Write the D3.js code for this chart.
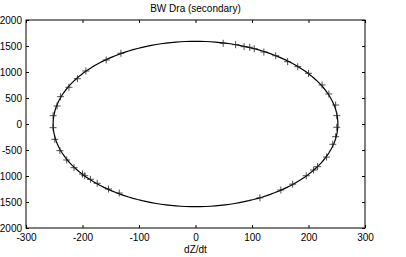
<!DOCTYPE html>
<html>
<head>
<meta charset="utf-8">
<script src="https://cdn.jsdelivr.net/npm/d3@7"></script>
<style>
body { margin: 0; background: #fff; }
text { font-family: "Liberation Sans", Arial, sans-serif; fill: #000; }
</style>
</head>
<body>
<svg id="board" width="406" height="257"></svg>
<script>
// observed velocity points (dZ/dt, value)
dzdt = [-252, -252, -245, -239, -224, -209, -194, -158, -132,
        -249, -240, -228, -215, -200, -196, -186, -174, -154, -135,
        49, 71, 86, 96, 104, 121, 142, 163, 181, 200, 224, 236, 248, 250, 250,
        248, 243, 232, 216, 209, 196, 172, 151, 114];
vel = [-71, 160, 346, 525, 706, 871, 1019, 1231, 1360,
       -295, -513, -692, -840, -962, -994, -1064, -1141, -1250, -1327,
       1552, 1525, 1487, 1475, 1448, 1385, 1313, 1198, 1102, 975, 750, 577, 365, 160, -63,
       -244, -390, -635, -821, -885, -995, -1157, -1270, -1420];

// fitted ellipse semi axes
fit_a = 252;
fit_b = 1590;

x_ticks = [-300, -200, -100, 0, 100, 200, 300];
y_ticks = [-2000, -1500, -1000, -500, 0, 500, 1000, 1500, 2000];

board = d3.select('#board');

left = 26; right = 365; top_ = 20; bottom = 228;

x = d3.scaleLinear().domain([-300, 300]).range([left, right]);
y = d3.scaleLinear().domain([-2000, 2000]).range([bottom, top_]);

// ticks, pointing inward on all sides
board.append('g').attr('transform', `translate(0,${bottom})`)
    .call(d3.axisBottom(x).tickValues(x_ticks).tickSizeInner(-3).tickSizeOuter(0).tickPadding(6).tickFormat(d3.format('d')));
board.append('g').attr('transform', `translate(0,${top_})`)
    .call(d3.axisTop(x).tickValues(x_ticks).tickSizeInner(-3).tickSizeOuter(0).tickFormat(''));
board.append('g').attr('transform', `translate(${left},0)`)
    .call(d3.axisLeft(y).tickValues(y_ticks).tickSizeInner(-3).tickSizeOuter(0).tickPadding(4).tickFormat(d3.format('d')));
board.append('g').attr('transform', `translate(${right},0)`)
    .call(d3.axisRight(y).tickValues(y_ticks).tickSizeInner(-3).tickSizeOuter(0).tickFormat(''));

board.selectAll('.domain').remove();
board.selectAll('.tick line').attr('stroke', '#000');
board.selectAll('.tick text').attr('font-size', 10).attr('fill', '#000')
    .attr('font-family', '"Liberation Sans", Arial, sans-serif')
    .text(function(){ return d3.select(this).text().replace('\u2212', '-'); });

board.append('rect')
    .attr('x', left).attr('y', top_)
    .attr('width', right - left).attr('height', bottom - top_)
    .attr('fill', 'none').attr('stroke', '#000').attr('stroke-width', 1);

// fitted curve
angles = d3.range(0, 361, 2);
curve = angles.map(t => [fit_a * Math.cos(t * Math.PI / 180), fit_b * Math.sin(t * Math.PI / 180)]);
board.append('path')
    .attr('d', d3.line().x(d => x(d[0])).y(d => y(d[1]))(curve))
    .attr('fill', 'none').attr('stroke', '#000').attr('stroke-width', 1.2);

// plus markers
s = 3.5;
dzdt.forEach(function(v, i){
    cx = x(v); cy = y(vel[i]);
    board.append('path')
        .attr('d', `M${cx - s},${cy}H${cx + s}M${cx},${cy - s}V${cy + s}`)
        .attr('stroke', '#222').attr('stroke-width', 0.8).attr('fill', 'none');
});

board.append('text').attr('x', (left + right) / 2).attr('y', 12)
    .attr('text-anchor', 'middle').attr('font-size', 10).text('BW Dra (secondary)');
board.append('text').attr('x', (left + right) / 2).attr('y', 253)
    .attr('text-anchor', 'middle').attr('font-size', 10).text('dZ/dt');
</script>
</body>
</html>
